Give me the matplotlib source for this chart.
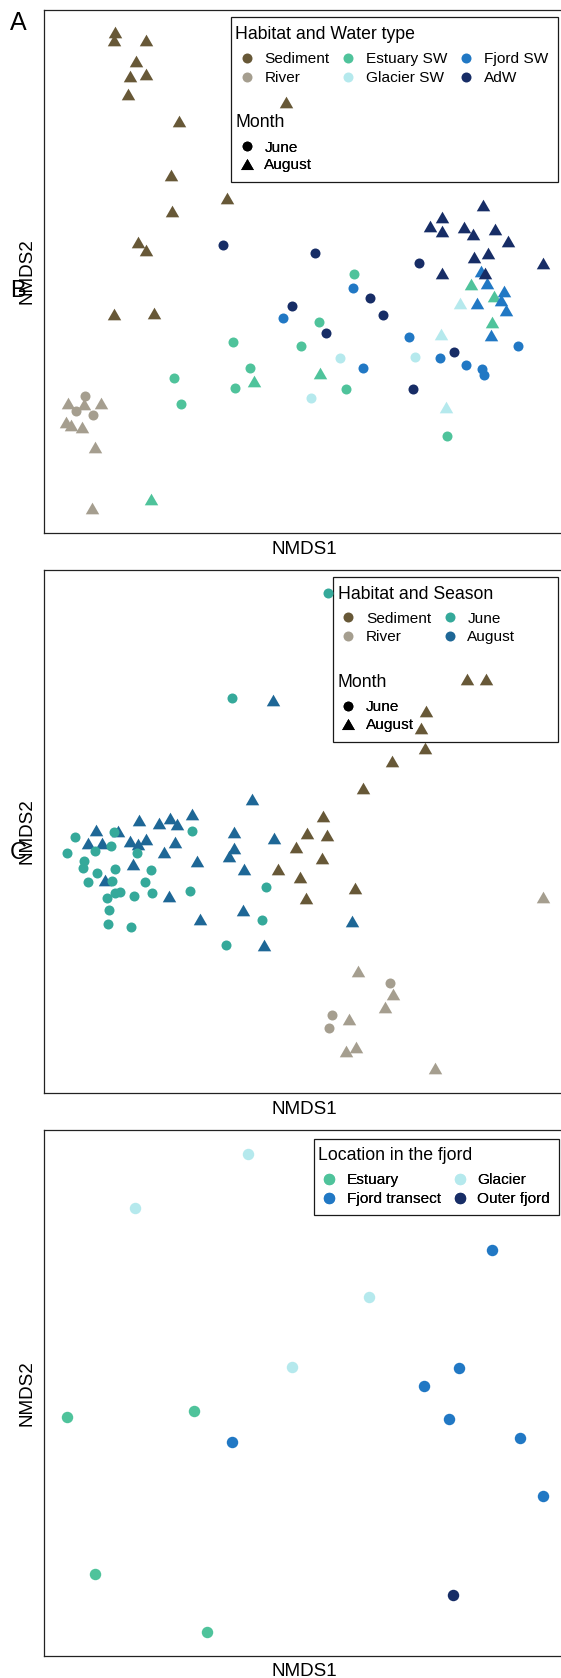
import matplotlib
matplotlib.use("Agg")
import matplotlib.pyplot as plt
from matplotlib.path import Path
from matplotlib.lines import Line2D
from matplotlib.patches import Rectangle

plt.rcParams['font.family'] = ['Liberation Sans', 'DejaVu Sans']

# ---------------------------------------------------------------- colours
SEDIMENT = "#675837"
RIVER = "#A59E8F"
ESTUARY = "#4FC39B"
GLACIER = "#B5E9ED"
FJORD = "#2178C4"
ADW = "#172D66"
JUNE_C = "#35A99A"
AUGUST_C = "#1E6796"

# ------------------------------------------------ panel A: NMDS scores
a_sediment_aug = [(-0.370, 0.477), (-0.372, 0.461), (-0.308, 0.461), (-0.328, 0.418),
                  (-0.339, 0.388), (-0.308, 0.393), (-0.344, 0.353), (-0.028, 0.336),
                  (-0.241, 0.298), (-0.257, 0.191), (-0.145, 0.145), (-0.255, 0.119),
                  (-0.324, 0.056), (-0.307, 0.041), (-0.372, -0.088), (-0.292, -0.085)]
a_river_aug = [(-0.464, -0.265), (-0.432, -0.268), (-0.398, -0.265), (-0.467, -0.304),
               (-0.457, -0.309), (-0.435, -0.314), (-0.410, -0.354), (-0.415, -0.476)]
a_river_jun = [(-0.430, -0.252), (-0.448, -0.282), (-0.414, -0.290)]
a_estuary_jun = [(0.108, -0.007), (0.038, -0.103), (-0.134, -0.143), (0.003, -0.151),
                 (-0.099, -0.195), (-0.251, -0.215), (-0.129, -0.235), (0.092, -0.237),
                 (-0.237, -0.267), (0.295, -0.332)]
a_estuary_aug = [(-0.091, -0.221), (0.040, -0.206), (-0.298, -0.458), (0.343, -0.027),
                 (0.389, -0.052), (0.384, -0.104)]
a_glacier_jun = [(0.080, -0.176), (0.023, -0.256), (0.230, -0.173)]
a_glacier_aug = [(0.321, -0.065), (0.282, -0.128), (0.293, -0.274)]
a_fjord_jun = [(0.107, -0.035), (-0.033, -0.096), (0.126, -0.195), (0.219, -0.133),
               (0.280, -0.176), (0.332, -0.189), (0.365, -0.198), (0.369, -0.209),
               (0.437, -0.151)]
a_fjord_aug = [(0.362, -0.002), (0.375, -0.025), (0.408, -0.041), (0.402, -0.060),
               (0.354, -0.065), (0.412, -0.080), (0.382, -0.129)]
a_adw_jun = [(-0.154, 0.051), (0.031, 0.035), (0.239, 0.015), (-0.015, -0.071),
             (0.141, -0.055), (0.166, -0.089), (0.052, -0.125), (0.309, -0.163),
             (0.227, -0.237)]
a_adw_aug = [(0.367, 0.131), (0.285, 0.107), (0.260, 0.088), (0.285, 0.078),
             (0.328, 0.086), (0.347, 0.073), (0.390, 0.083), (0.416, 0.059),
             (0.376, 0.035), (0.348, 0.026), (0.486, 0.014), (0.285, -0.005),
             (0.370, -0.006)]

# ------------------------------------------------ panel B: NMDS scores
b_water_jun = [(0.057, 0.474), (-0.136, 0.264), (-0.450, -0.014), (-0.372, -0.003),
               (-0.465, -0.045), (-0.409, -0.042), (-0.377, -0.032), (-0.325, -0.045),
               (-0.432, -0.061), (-0.433, -0.075), (-0.405, -0.085), (-0.369, -0.078),
               (-0.298, -0.080), (-0.424, -0.104), (-0.375, -0.101), (-0.310, -0.104),
               (-0.386, -0.135), (-0.369, -0.126), (-0.359, -0.124), (-0.331, -0.132),
               (-0.295, -0.126), (-0.219, -0.121), (-0.381, -0.160), (-0.383, -0.188),
               (-0.338, -0.193), (-0.216, -0.002), (-0.067, -0.113), (-0.076, -0.179),
               (-0.148, -0.229)]
b_water_aug = [(-0.407, 0.000), (-0.363, -0.001), (-0.423, -0.025), (-0.395, -0.025),
               (-0.321, 0.020), (-0.281, 0.015), (-0.260, 0.025), (-0.245, 0.013),
               (-0.215, 0.032), (-0.339, -0.021), (-0.323, -0.028), (-0.307, -0.018),
               (-0.250, -0.023), (-0.271, -0.043), (-0.333, -0.068), (-0.205, -0.061),
               (-0.390, -0.100), (-0.261, -0.131), (-0.199, -0.177), (-0.096, 0.062),
               (-0.053, 0.260), (-0.131, -0.004), (-0.052, -0.015), (-0.131, -0.035),
               (-0.141, -0.052), (-0.112, -0.078), (-0.113, -0.159), (-0.071, -0.229),
               (0.105, -0.181)]
b_sediment_aug = [(0.335, 0.302), (0.372, 0.302), (0.252, 0.239), (0.242, 0.204),
                  (0.251, 0.164), (0.184, 0.138), (0.126, 0.085), (0.046, 0.028),
                  (0.014, -0.006), (0.055, -0.010), (-0.007, -0.033), (0.045, -0.055),
                  (-0.043, -0.077), (0.000, -0.093), (0.111, -0.115), (0.012, -0.136)]
b_river_aug = [(0.487, -0.134), (0.116, -0.281), (0.186, -0.328), (0.170, -0.353),
               (0.098, -0.378), (0.093, -0.442), (0.113, -0.433), (0.271, -0.476)]
b_river_jun = [(0.181, -0.306), (0.064, -0.369), (0.058, -0.395)]

# ------------------------------------------------ panel C: NMDS scores
c_estuary = [(-0.465, -0.053), (-0.211, -0.042), (-0.410, -0.367), (-0.185, -0.483)]
c_glacier = [(-0.104, 0.473), (-0.329, 0.365), (0.138, 0.187), (-0.016, 0.047)]
c_fjord = [(0.384, 0.281), (0.319, 0.045), (0.249, 0.008), (0.299, -0.057),
           (0.440, -0.095), (-0.135, -0.103), (0.486, -0.211)]
c_outer = [(0.307, -0.409)]

habitat_labels_a = ["Sediment", "River", "Estuary SW", "Glacier SW", "Fjord SW", "AdW"]
habitat_labels_b = ["Sediment", "River", "June", "August"]
location_labels_c = ["Estuary", "Fjord transect", "Glacier", "Outer fjord"]
month_labels = ["June", "August"]

# filled triangle centred on its bounding box (width == marker size)
TRI = Path([(0.0, 1.1665), (-1.347, -1.1665), (1.347, -1.1665), (0.0, 1.1665)],
           [Path.MOVETO, Path.LINETO, Path.LINETO, Path.CLOSEPOLY])

S_CIRCLE = 52
S_TRI = 94
S_CIRCLE_C = 68

fig = plt.figure(figsize=(5.61, 16.78), dpi=100)
ax_a = fig.add_axes([0.0791, 0.6823, 0.928, 0.3119])
ax_b = fig.add_axes([0.0791, 0.34863, 0.928, 0.31186])
ax_c = fig.add_axes([0.0791, 0.01335, 0.928, 0.31341])


def style_axes(ax, ylim, xlabel_y):
    ax.set_xlim(-0.511, 0.530)
    ax.set_ylim(*ylim)
    ax.set_xticks([])
    ax.set_yticks([])
    for sp in ax.spines.values():
        sp.set_linewidth(0.9)
        sp.set_color("#222222")
    ax.set_xlabel("NMDS1", fontsize=13.6)
    ax.xaxis.set_label_coords(0.5, xlabel_y)
    ax.xaxis.label.set_va("baseline")
    ax.set_ylabel("NMDS2", fontsize=13.6)
    ax.yaxis.set_label_coords(-0.0338, 0.5)
    ax.yaxis.label.set_va("center")


def plot_points(ax, pts, color, marker, size):
    xs = [p[0] for p in pts]
    ys = [p[1] for p in pts]
    ax.scatter(xs, ys, s=size, marker=marker, c=color, linewidths=0, zorder=3)


def framed_box(ax, x0, y0, x1, y1):
    ax.add_patch(Rectangle((x0, y0), x1 - x0, y1 - y0, transform=ax.transAxes,
                           fill=False, lw=0.9, ec="#1a1a1a", zorder=1.5))


def key_legend(ax, labels, colors, markers, sizes, ncol, x, y, spacing):
    handles = [Line2D([], [], ls="none", marker=m, color=c, markersize=ms,
                      markeredgewidth=0) for c, m, ms in zip(colors, markers, sizes)]
    leg = ax.legend(handles, labels, ncol=ncol, loc="center left",
                    bbox_to_anchor=(x, y), frameon=False, borderpad=0,
                    borderaxespad=0, handlelength=1.3, handletextpad=0.48,
                    columnspacing=0.58, labelspacing=spacing, fontsize=11.1)
    leg.set_zorder(1.6)
    ax.add_artist(leg)
    return leg


def title_text(ax, x, y, s):
    ax.text(x, y, s, transform=ax.transAxes, fontsize=12.7, ha="left",
            va="baseline", zorder=1.6)


# ---------------------------------------------------------------- panel A
style_axes(ax_a, (-0.526, 0.521), -0.0396)
for pts, col in [(a_sediment_aug, SEDIMENT), (a_river_aug, RIVER),
                 (a_estuary_aug, ESTUARY), (a_glacier_aug, GLACIER),
                 (a_fjord_aug, FJORD), (a_adw_aug, ADW)]:
    plot_points(ax_a, pts, col, TRI, S_TRI)
for pts, col in [(a_river_jun, RIVER), (a_estuary_jun, ESTUARY),
                 (a_glacier_jun, GLACIER), (a_fjord_jun, FJORD), (a_adw_jun, ADW)]:
    plot_points(ax_a, pts, col, "o", S_CIRCLE)

framed_box(ax_a, 0.3580, 0.6712, 0.9869, 0.9857)
title_text(ax_a, 0.3671, 0.9448, "Habitat and Water type")
key_legend(ax_a, habitat_labels_a,
           [SEDIMENT, RIVER, ESTUARY, GLACIER, FJORD, ADW], ["o"] * 6, [7.2] * 6,
           3, 0.3698, 0.8877, 0.32)
title_text(ax_a, 0.3671, 0.7765, "Month")
key_legend(ax_a, month_labels, ["black", "black"], ["o", TRI], [7.0, 9.2],
           1, 0.3698, 0.7199, 0.23)

# ---------------------------------------------------------------- panel B
style_axes(ax_b, (-0.526, 0.521), -0.0397)
for pts, col in [(b_water_aug, AUGUST_C), (b_sediment_aug, SEDIMENT),
                 (b_river_aug, RIVER)]:
    plot_points(ax_b, pts, col, TRI, S_TRI)
for pts, col in [(b_water_jun, JUNE_C), (b_river_jun, RIVER)]:
    plot_points(ax_b, pts, col, "o", S_CIRCLE)

framed_box(ax_b, 0.5538, 0.6711, 0.9866, 0.9864)
title_text(ax_b, 0.5636, 0.9448, "Habitat and Season")
key_legend(ax_b, habitat_labels_b, [SEDIMENT, RIVER, JUNE_C, AUGUST_C], ["o"] * 4,
           [7.2] * 4, 2, 0.5649, 0.8886, 0.32)
title_text(ax_b, 0.5636, 0.7766, "Month")
key_legend(ax_b, month_labels, ["black", "black"], ["o", TRI], [7.0, 9.2],
           1, 0.5649, 0.7200, 0.23)

# ---------------------------------------------------------------- panel C
style_axes(ax_c, (-0.531, 0.521), -0.038)
for pts, col in [(c_estuary, ESTUARY), (c_glacier, GLACIER), (c_fjord, FJORD),
                 (c_outer, ADW)]:
    plot_points(ax_c, pts, col, "o", S_CIRCLE_C)

framed_box(ax_c, 0.5175, 0.8382, 0.9881, 0.9823)
title_text(ax_c, 0.5257, 0.9430, "Location in the fjord")
key_legend(ax_c, location_labels_c, [ESTUARY, FJORD, GLACIER, ADW], ["o"] * 4,
           [8.2] * 4, 2, 0.5279, 0.8861, 0.32)

# ---------------------------------------------------------------- panel tags
fig.text(0.0321, 0.98188, "A", fontsize=18, ha="center", va="baseline")
fig.text(0.0321, 0.82330, "B", fontsize=17, ha="center", va="baseline")
fig.text(0.0321, 0.48826, "C", fontsize=17, ha="center", va="baseline")

fig.savefig("out.png", dpi=100)
